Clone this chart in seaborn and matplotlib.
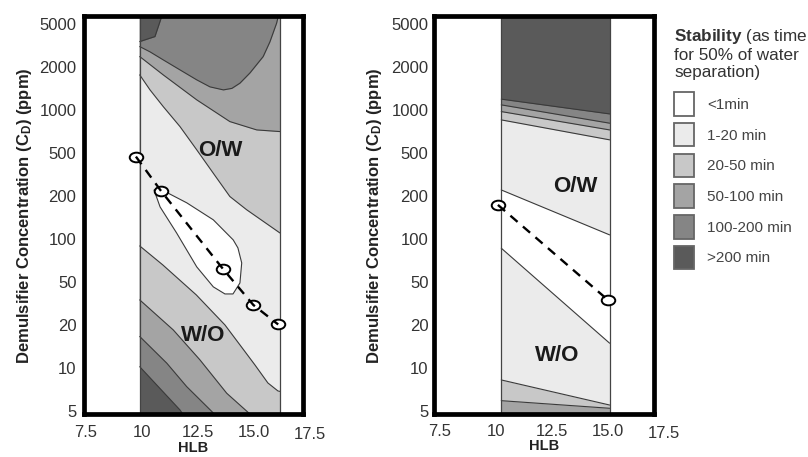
import numpy as np
import matplotlib
matplotlib.use("Agg")
import matplotlib.pyplot as plt
import seaborn as sns
from matplotlib.patches import Patch
from matplotlib.path import Path
from matplotlib.transforms import Affine2D

# ---------------- data ----------------
y_ticks = [5, 10, 20, 50, 100, 200, 500, 1000, 2000, 5000]
x_ticks = [7.5, 10, 12.5, 15, 17.5]
x_tick_labels = ["7.5", "10", "12.5", "15.0", "17.5"]

stability_labels = ["<1min", "1-20 min", "20-50 min", "50-100 min", "100-200 min", ">200 min"]
stability_colors = ["#ffffff", "#ebebeb", "#c8c8c8", "#a4a4a4", "#858585", "#5a5a5a"]

# ---- left panel ----
left_hlb_range = [9.9, 16.17]
left_path_hlb = [9.73, 10.84, 13.61, 14.98, 16.09]
left_path_cd = [462, 224, 62, 30.6, 20.2]

left_D_hlb = [9.9, 11.7, 12.15, 16.17]
left_D_cd = [10.2, 5.08, 4.0, 4.0]
left_C_hlb = [9.9, 11.11, 12.0, 13.19, 13.5, 16.17]
left_C_cd = [16.6, 10.8, 7.4, 4.84, 4.0, 4.0]
left_B_hlb = [9.9, 11.4, 12.59, 13.79, 14.8, 15.1, 16.17]
left_B_cd = [34.1, 18.45, 11.4, 6.65, 4.8, 4.0, 4.0]
left_A_hlb = [9.9, 10.93, 12.43, 13.71, 14.38, 15.05, 15.63, 16.08, 16.17]
left_A_cd = [89.3, 65.8, 37.9, 20, 14.5, 10.5, 7.85, 6.9, 6.85]
left_E_hlb = [9.9, 10.36, 10.95, 11.7, 12.45, 13.19, 13.93, 14.68, 16.17]
left_E_cd = [1758, 1380, 1055, 764, 525, 324, 198, 160, 110]
left_F_hlb = [9.9, 10.95, 12.45, 13.93, 15.13, 16.17]
left_F_cd = [2492, 1758, 1175, 828, 724, 705]
left_G_hlb = [9.9, 10.36, 10.95, 11.7, 12.45, 13.04, 13.64, 14.02, 14.38, 14.83, 15.42, 15.72, 16.02, 16.09, 16.17]
left_G_cd = [3082, 2754, 2322, 1905, 1622, 1449, 1380, 1414, 1538, 1815, 2492, 3406, 5074, 5842, 8000]
left_H_hlb = [9.9, 10.58, 10.88, 10.95]
left_H_cd = [3428, 3814, 5842, 8000]
left_tongue_up_hlb = [10.54, 10.72, 12.0, 13.19, 14.08, 14.29, 14.46]
left_tongue_up_cd = [227, 237, 179, 136, 98.4, 86.5, 67.9]
left_tongue_lo_hlb = [10.54, 10.81, 11.55, 12.45, 13.19, 13.71, 14.07, 14.38, 14.46]
left_tongue_lo_cd = [227, 167.5, 110, 63.7, 45, 38.7, 38.7, 48.9, 67.9]

# ---- right panel ----
right_hlb_range = [10.25, 15.08]
right_path_hlb = [10.1, 15.0]
right_path_cd = [173, 34.1]
right_L1_cd = [1189, 937]
right_L2_cd = [1084, 807]
right_L3_cd = [973, 724]
right_L4_cd = [851, 617]
right_M1_cd = [227, 106.7]
right_M2_cd = [86.1, 14.9]
right_Lb1_cd = [8.24, 5.50]
right_Lb2_cd = [5.9, 5.22]

# ---------------- style ----------------
sns.set_theme(style="white")
plt.rcParams["font.family"] = ["Liberation Sans", "DejaVu Sans"]
plt.rcParams["mathtext.fontset"] = "custom"
plt.rcParams["mathtext.rm"] = "Liberation Sans"
plt.rcParams["mathtext.bf"] = "Liberation Sans:bold"
plt.rcParams["mathtext.it"] = "Liberation Sans:italic"

YLIM = (4.76, 5850)
LINE_C = "#3a3a3a"

L = np.log10(y_ticks)
P = np.arange(len(y_ticks), dtype=float)


def fwd(v):
    v = np.asarray(v, float)
    l = np.log10(np.clip(v, 1e-9, None))
    p = np.interp(l, L, P)
    p = np.where(l < L[0], (l - L[0]) / (L[1] - L[0]), p)
    p = np.where(l > L[-1], P[-1] + (l - L[-1]) / (L[-1] - L[-2]), p)
    return p


def inv(p):
    p = np.asarray(p, float)
    l = np.interp(p, P, L)
    l = np.where(p < 0, L[0] + p * (L[1] - L[0]), l)
    l = np.where(p > P[-1], L[-1] + (p - P[-1]) * (L[-1] - L[-2]), l)
    return 10 ** l


ellipse = Path.unit_circle().transformed(Affine2D().scale(1.4, 1.0))

fig = plt.figure(figsize=(8.08, 4.57), dpi=100)
ax1 = fig.add_axes([0.1040, 0.0941, 0.2710, 0.8698])
ax2 = fig.add_axes([0.5371, 0.0941, 0.2729, 0.8698])


def setup(ax, xlim, ypad, xpad, ylabelpad):
    ax.set_yscale("function", functions=(fwd, inv))
    ax.set_xlim(xlim)
    ax.set_ylim(YLIM)
    ax.set_yticks(y_ticks)
    ax.set_yticklabels([str(t) for t in y_ticks])
    ticks = [(t, s) for t, s in zip(x_ticks, x_tick_labels) if xlim[0] <= t <= xlim[1]]
    ax.set_xticks([t for t, _ in ticks])
    ax.set_xticklabels([s for _, s in ticks])
    ax.minorticks_off()
    ax.tick_params(axis="both", length=0, labelsize=12, labelcolor="#333333")
    ax.tick_params(axis="y", pad=ypad)
    ax.tick_params(axis="x", pad=xpad)
    for t, s in zip(x_ticks, x_tick_labels):
        if not (xlim[0] <= t <= xlim[1]):
            ax.annotate(s, xy=(t, 0), xycoords=("data", "axes fraction"),
                        xytext=(0, -xpad - 1.5), textcoords="offset points",
                        ha="center", va="top", fontsize=12, color="#333333",
                        annotation_clip=False)
    for sp in ax.spines.values():
        sp.set_linewidth(3.4)
        sp.set_color("black")
        sp.set_zorder(10)
    ax.set_ylabel("Demulsifier Concentration (C$_\\mathbf{D}$) (ppm)", fontsize=12,
                  fontweight="bold", color="#222222", labelpad=ylabelpad)
    ax.set_xlabel("HLB", fontsize=10.5, fontweight="bold", color="#222222", labelpad=0.5)


def layer(ax, xs, ys, cidx):
    ax.fill_between(xs, ys, YLIM[1] * 3, color=stability_colors[cidx], lw=0, zorder=1)


def bline(ax, xs, ys):
    sns.lineplot(x=xs, y=ys, ax=ax, color=LINE_C, lw=0.8, sort=False, estimator=None, zorder=2)


# ---------------- left panel ----------------
ax = ax1
ax.fill_between(left_hlb_range, YLIM[0] * 0.3, YLIM[1] * 3, color=stability_colors[5], lw=0, zorder=1)
left_layers = [
    (left_D_hlb, left_D_cd, 4),
    (left_C_hlb, left_C_cd, 3),
    (left_B_hlb, left_B_cd, 2),
    (left_A_hlb, left_A_cd, 1),
    (left_E_hlb, left_E_cd, 2),
    (left_F_hlb, left_F_cd, 3),
    (left_G_hlb, left_G_cd, 4),
    (left_H_hlb, left_H_cd, 5),
]
for xs, ys, c in left_layers:
    layer(ax, xs, ys, c)
    bline(ax, xs, ys)
tx = left_tongue_up_hlb + left_tongue_lo_hlb[::-1]
ty = left_tongue_up_cd + left_tongue_lo_cd[::-1]
ax.fill(tx, ty, facecolor=stability_colors[0], edgecolor=LINE_C, lw=0.8, zorder=2)
for xv in left_hlb_range:
    ax.axvline(xv, color="#444444", lw=0.9, zorder=2)
ax.text(13.49, 519, "O/W", fontsize=16, fontweight="bold", ha="center", va="center", color="#1a1a1a", zorder=3)
ax.text(12.74, 17.0, "W/O", fontsize=16, fontweight="bold", ha="center", va="center", color="#1a1a1a", zorder=3)
sns.scatterplot(x=left_path_hlb, y=left_path_cd, ax=ax, marker=ellipse, s=95,
                facecolor="white", edgecolor="black", linewidth=1.4, zorder=4)
sns.lineplot(x=left_path_hlb, y=left_path_cd, ax=ax, color="black", lw=1.7,
             linestyle=(0, (4, 3)), sort=False, estimator=None, zorder=5)
setup(ax, (7.41, 17.2), 5.5, 8, 4)

# ---------------- right panel ----------------
ax = ax2
ax.fill_between(right_hlb_range, YLIM[0] * 0.3, YLIM[1] * 3, color=stability_colors[3], lw=0, zorder=1)
right_layers = [
    (right_Lb2_cd, 2),
    (right_Lb1_cd, 1),
    (right_M2_cd, 0),
    (right_M1_cd, 1),
    (right_L4_cd, 2),
    (right_L3_cd, 3),
    (right_L2_cd, 4),
    (right_L1_cd, 5),
]
for ys, c in right_layers:
    layer(ax, right_hlb_range, ys, c)
    bline(ax, right_hlb_range, ys)
for xv in right_hlb_range:
    ax.axvline(xv, color="#444444", lw=0.9, zorder=2)
ax.text(13.53, 243, "O/W", fontsize=16, fontweight="bold", ha="center", va="center", color="#1a1a1a", zorder=3)
ax.text(12.72, 12.3, "W/O", fontsize=16, fontweight="bold", ha="center", va="center", color="#1a1a1a", zorder=3)
sns.scatterplot(x=right_path_hlb, y=right_path_cd, ax=ax, marker=ellipse, s=95,
                facecolor="white", edgecolor="black", linewidth=1.4, zorder=4)
sns.lineplot(x=right_path_hlb, y=right_path_cd, ax=ax, color="black", lw=1.7,
             linestyle=(0, (4, 3)), sort=False, estimator=None, zorder=5)
setup(ax, (7.25, 17.08), 4, 7, 5)

# ---------------- legend ----------------
fig.text(674 / 808, 1 - 27 / 457, "$\\mathbf{Stability}$ (as time\nfor 50% of water\nseparation)",
         fontsize=12.3, color="#333333", ha="left", va="top", linespacing=1.17)
handles = [Patch(facecolor=c, edgecolor="#666666", linewidth=1.3) for c in stability_colors]
leg = fig.legend(handles, stability_labels, loc="upper left",
                 bbox_to_anchor=(674.3 / 808, 1 - 92.3 / 457), frameon=False,
                 fontsize=11, handlelength=1.31, handleheight=1.99, handletextpad=0.83,
                 labelspacing=0.47, borderpad=0, borderaxespad=0)
for t in leg.get_texts():
    t.set_color("#444444")

fig.savefig("out.png", dpi=100)
